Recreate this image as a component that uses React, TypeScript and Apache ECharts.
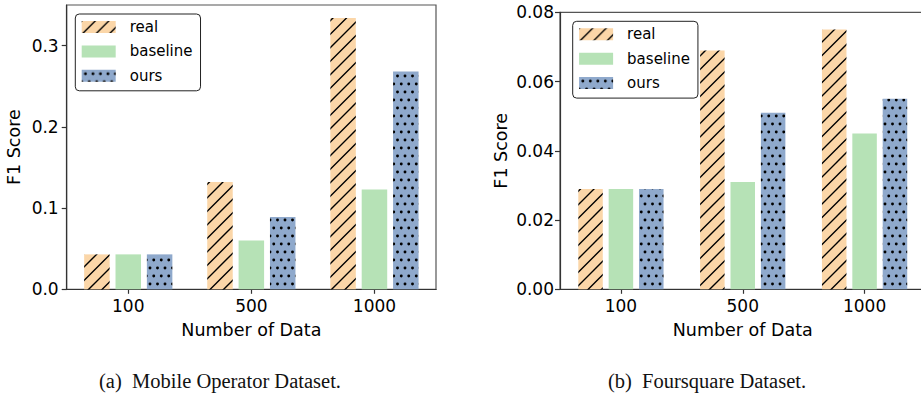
import React, { useEffect, useRef } from 'react';
import * as echarts from 'echarts';

const categories = ['100', '500', '1000'];
const seriesNames = ['real', 'baseline', 'ours'];
const mobileReal = [0.043, 0.132, 0.334];
const mobileBaseline = [0.043, 0.06, 0.123];
const mobileOurs = [0.043, 0.089, 0.268];
const fourReal = [0.029, 0.069, 0.075];
const fourBaseline = [0.029, 0.031, 0.045];
const fourOurs = [0.029, 0.051, 0.055];
const mobileTicks = [0, 0.1, 0.2, 0.3];
const fourTicks = [0, 0.02, 0.04, 0.06, 0.08];
const captionA = '(a)\u00a0 Mobile Operator Dataset.';
const captionB = '(b)\u00a0 Foursquare Dataset.';

const FONT = '"DejaVu Sans", sans-serif';
const ORANGE = '#fbd6a8';
const GREEN = '#b6e2b6';
const BLUE = '#8fa9cc';

function hatchPattern(bg: string) {
  const s = 13.5;
  const c = document.createElement('canvas');
  c.width = 27;
  c.height = 27;
  const ctx = c.getContext('2d')!;
  ctx.fillStyle = bg;
  ctx.fillRect(0, 0, 27, 27);
  ctx.strokeStyle = '#000';
  ctx.lineWidth = 1.4;
  ctx.beginPath();
  for (let k = 0; k <= 4; k++) {
    const d = k * s;
    ctx.moveTo(d - 30, 30);
    ctx.lineTo(d + 30, -30);
  }
  ctx.stroke();
  return { image: c, repeat: 'repeat', imageWidth: 27, imageHeight: 27 } as any;
}

function dotPattern(bg: string) {
  const w = 15;
  const h = 16;
  const c = document.createElement('canvas');
  c.width = w;
  c.height = h;
  const ctx = c.getContext('2d')!;
  ctx.fillStyle = bg;
  ctx.fillRect(0, 0, w, h);
  ctx.fillStyle = '#000';
  const pts = [
    [3.75, 4],
    [11.25, 4],
    [0, 12],
    [7.5, 12],
    [15, 12],
  ];
  for (const [x, y] of pts) {
    ctx.beginPath();
    ctx.arc(x, y, 1.45, 0, Math.PI * 2);
    ctx.fill();
  }
  return { image: c, repeat: 'repeat', imageWidth: w, imageHeight: h } as any;
}

export default function App() {
  const ref = useRef<HTMLDivElement>(null);
  useEffect(() => {
    document.body.style.margin = '0';
    if (!ref.current) return;
    const chart = echarts.init(ref.current, undefined, { renderer: 'svg' });
    const fills = [hatchPattern(ORANGE), GREEN, dotPattern(BLUE)];
    const mobile = [mobileReal, mobileBaseline, mobileOurs];
    const four = [fourReal, fourBaseline, fourOurs];

    const axisLine = { show: true, lineStyle: { color: '#333', width: 1.2 } };
    const xAxis = (gridIndex: number) => ({
      type: 'category',
      gridIndex,
      data: categories,
      name: 'Number of Data',
      nameLocation: 'middle',
      nameGap: 32,
      nameTextStyle: { fontSize: 17.5, color: '#000', fontFamily: FONT },
      axisLine,
      axisTick: { show: true, alignWithLabel: true, length: 4.5, lineStyle: { color: '#333', width: 1.2 } },
      axisLabel: { fontSize: 17, color: '#000', fontFamily: FONT, margin: 8 },
      splitLine: { show: false },
    });
    const yAxis = (gridIndex: number, max: number, interval: number, ticks: number[], digits: number, nameGap: number, margin: number) => ({
      type: 'value',
      gridIndex,
      min: 0,
      max,
      interval,
      name: 'F1 Score',
      nameLocation: 'middle',
      nameGap,
      nameTextStyle: { fontSize: 17.5, color: '#000', fontFamily: FONT },
      axisLine,
      axisTick: { show: true, length: 5, customValues: ticks, lineStyle: { color: '#333', width: 1.2 } },
      axisLabel: {
        customValues: ticks,
        formatter: (v: number) => v.toFixed(digits),
        fontSize: 17,
        color: '#000',
        fontFamily: FONT,
        margin,
      },
      splitLine: { show: false },
    });

    const series: any[] = [];
    seriesNames.forEach((name, i) => {
      series.push({
        type: 'bar',
        name,
        data: mobile[i],
        xAxisIndex: 0,
        yAxisIndex: 0,
        barWidth: 25.5,
        barGap: '23%',
        itemStyle: { color: fills[i] },
      });
    });
    seriesNames.forEach((name, i) => {
      series.push({
        type: 'bar',
        name,
        data: four[i],
        xAxisIndex: 1,
        yAxisIndex: 1,
        barWidth: 24.5,
        barGap: '24%',
        itemStyle: { color: fills[i] },
      });
    });

    const legend = (left: number, top: number) => ({
      data: seriesNames,
      orient: 'vertical',
      left,
      top,
      icon: 'rect',
      itemWidth: 34,
      itemHeight: 12,
      itemGap: 6.4,
      padding: [4, 8, 6, 6.4],
      backgroundColor: '#fff',
      borderColor: '#222',
      borderWidth: 1,
      borderRadius: 4,
      selectedMode: false,
      textStyle: { fontSize: 15, color: '#000', fontFamily: FONT, lineHeight: 18, padding: [0, 0, 0, 9] },
    });

    chart.setOption({
      animation: false,
      backgroundColor: '#fff',
      grid: [
        { left: 66.7, top: 5, width: 369.3, height: 284.3, show: true, borderColor: '#555', borderWidth: 1.2, outerBoundsMode: 'none' },
        { left: 560, top: 12.3, width: 365.5, height: 277, show: true, borderColor: '#555', borderWidth: 1.2, outerBoundsMode: 'none' },
      ],
      xAxis: [xAxis(0), xAxis(1)],
      yAxis: [
        yAxis(0, 0.35, 0.1, mobileTicks, 1, 44, 8),
        yAxis(1, 0.08, 0.02, fourTicks, 2, 50, 6),
      ],
      legend: [legend(75.3, 14), legend(572.7, 21.3)],
      series,
      graphic: [
        {
          type: 'text',
          x: 220,
          y: 381,
          style: { text: captionA, font: '20.5px "Liberation Serif", serif', fill: '#111', align: 'center', verticalAlign: 'middle' },
        },
        {
          type: 'text',
          x: 707,
          y: 381,
          style: { text: captionB, font: '20.5px "Liberation Serif", serif', fill: '#111', align: 'center', verticalAlign: 'middle' },
        },
      ],
    });
    return () => chart.dispose();
  }, []);
  return <div ref={ref} style={{ width: 921, height: 405 }} />;
}
